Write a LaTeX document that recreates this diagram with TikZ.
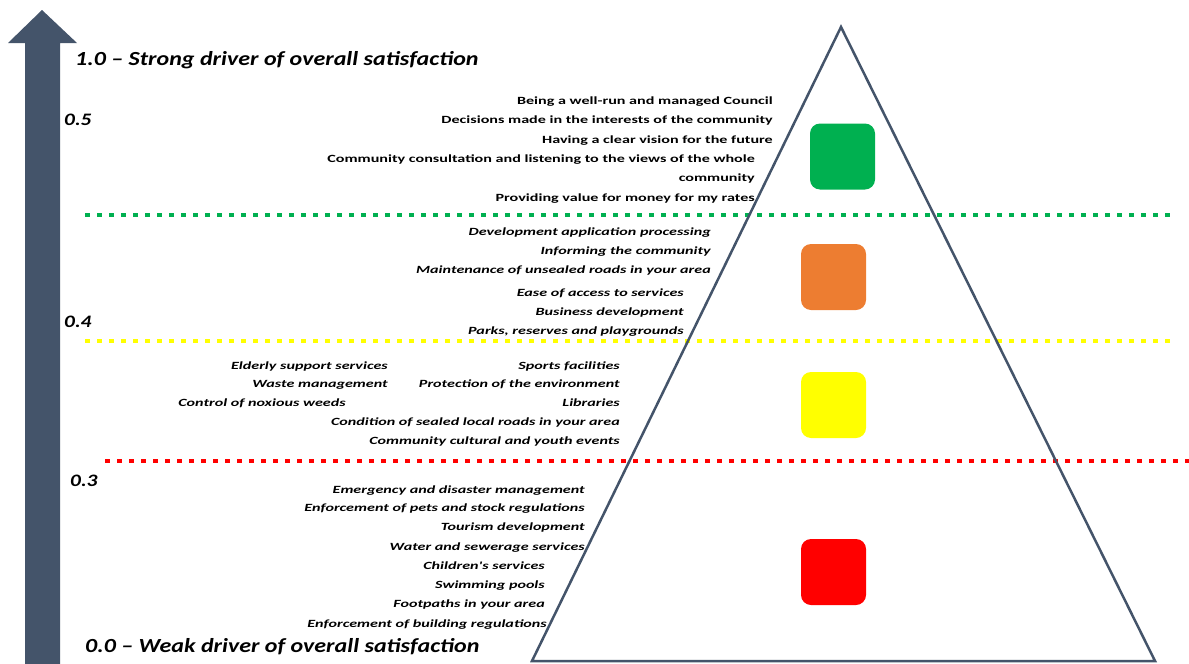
\documentclass[tikz,border=0pt]{standalone}
\usepackage{fontspec}
\setmainfont{Carlito}
\newfontfamily\labfont[FakeStretch=1.465]{Carlito}
\newfontfamily\widefont[FakeStretch=1.2]{Carlito}
\newfontfamily\numfont[FakeStretch=1.22]{Carlito}
\definecolor{slate}{HTML}{44546A}
\definecolor{cgreen}{HTML}{00B050}
\definecolor{corange}{HTML}{ED7D31}
\definecolor{cyellow}{HTML}{FFFF00}
\definecolor{cred}{HTML}{FF0000}
\tikzset{
  lab/.style={anchor=east,inner sep=0pt,font=\labfont\fontsize{11}{13}\selectfont\bfseries,text height=7.5pt,text depth=2.5pt},
  ilab/.style={lab,font=\labfont\fontsize{11}{13}\selectfont\bfseries\itshape},
  scalelab/.style={anchor=west,inner sep=0pt,font=\numfont\fontsize{17.5}{20}\selectfont\bfseries\itshape},
  titlelab/.style={anchor=west,inner sep=0pt,font=\widefont\fontsize{20}{24}\selectfont\bfseries\itshape},
  dotline/.style={line width=4.5pt,dash pattern=on 5pt off 7pt},
  tile/.style={rounded corners=10pt,minimum width=65pt,minimum height=66pt,inner sep=0pt}
}
\begin{document}
\begin{tikzpicture}[x=1pt,y=-1pt]
\useasboundingbox (0,0) rectangle (1189,664);
% arrow
\fill[slate] (25,670) -- (25,43) -- (8,43) -- (42,10) -- (77,43) -- (60,43) -- (60,670) -- cycle;
% dotted lines
\draw[dotline,cgreen] (85,215) -- (1170,215);
\draw[dotline,cyellow] (85,341) -- (1170,341);
\draw[dotline,cred] (105,461) -- (1189,461);
% triangle
\coordinate (apex) at (841,27);
\coordinate (bl) at (532,661);
\coordinate (br) at (1155,661);
\draw[slate,line width=2.5pt,line join=miter] (apex) -- (bl) -- (br) -- cycle;
% tiles
\node[tile,fill=cgreen] (tg) at (842.5,156.5) {};
\node[tile,fill=corange] (to) at (833.5,277) {};
\node[tile,fill=cyellow] (ty) at (833.5,405) {};
\node[tile,fill=cred] (tr) at (833.5,572) {};
% titles
\node[titlelab] (top) at (75,60) {1.0 – Strong driver of overall satisfaction};
\node[titlelab] (bot) at (85,647) {0.0 – Weak driver of overall satisfaction};
\node[scalelab] (s5) at (64,120) {0.5};
\node[scalelab] (s4) at (64,322) {0.4};
\node[scalelab] (s3) at (70,481) {0.3};
% green group
\node[lab] (g1) at (773,102) {Being a well-run and managed Council};
\node[lab] (g2) at (773,121) {Decisions made in the interests of the community};
\node[lab] (g3) at (773,141) {Having a clear vision for the future};
\node[lab] (g4) at (755,160) {Community consultation and listening to the views of the whole};
\node[lab] (g5) at (755,179) {community};
\node[lab] (g6) at (755,199) {Providing value for money for my rates};
% orange group
\node[ilab] (o1) at (711,233) {Development application processing};
\node[ilab] (o2) at (711,252) {Informing the community};
\node[ilab] (o3) at (711,271) {Maintenance of unsealed roads in your area};
\node[ilab] (o4) at (684,294) {Ease of access to services};
\node[ilab] (o5) at (684,313) {Business development};
\node[ilab] (o6) at (684,332) {Parks, reserves and playgrounds};
% yellow group
\node[ilab] (y1) at (388,367) {Elderly support services};
\node[ilab] (y2) at (388,385) {Waste management};
\node[ilab] (y3) at (346,404) {Control of noxious weeds};
\node[ilab] (y4) at (620,367) {Sports facilities};
\node[ilab] (y5) at (620,385) {Protection of the environment};
\node[ilab] (y6) at (620,404) {Libraries};
\node[ilab] (y7) at (620,423) {Condition of sealed local roads in your area};
\node[ilab] (y8) at (620,442) {Community cultural and youth events};
% red group
\node[ilab] (r1) at (585,491) {Emergency and disaster management};
\node[ilab] (r2) at (585,509) {Enforcement of pets and stock regulations};
\node[ilab] (r3) at (585,528) {Tourism development};
\node[ilab] (r4) at (585,548) {Water and sewerage services};
\node[ilab] (r5) at (545,567) {Children's services};
\node[ilab] (r6) at (545,586) {Swimming pools};
\node[ilab] (r7) at (545,605) {Footpaths in your area};
\node[ilab] (r8) at (547,625) {Enforcement of building regulations};
\end{tikzpicture}
\end{document}
